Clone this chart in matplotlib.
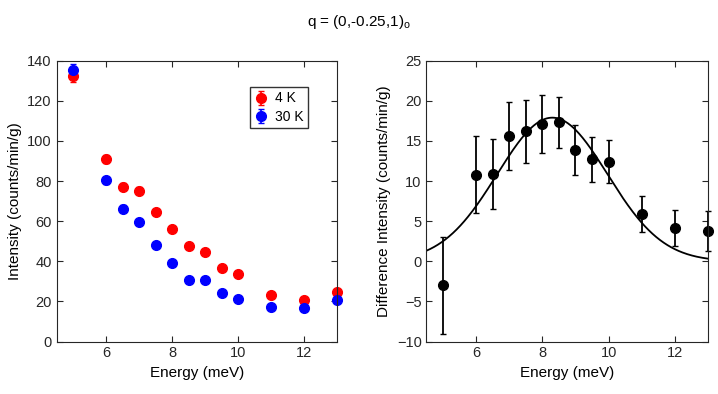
import numpy as np
import matplotlib
matplotlib.use('Agg')
import matplotlib.pyplot as plt

plt.rcParams['font.family'] = ['Liberation Sans', 'DejaVu Sans']
plt.rcParams['mathtext.fontset'] = 'custom'
plt.rcParams['mathtext.rm'] = 'Liberation Sans'

# left panel: intensity at two temperatures
energy = [5, 6, 6.5, 7, 7.5, 8, 8.5, 9, 9.5, 10, 11, 12, 13]
int_4K = [132.4, 91, 77.2, 75.2, 64.6, 56.3, 47.8, 44.5, 36.9, 33.6, 23.3, 20.9, 24.9]
err_4K = [3.0, 2.2, 1.8, 1.8, 1.6, 1.5, 1.4, 1.4, 1.3, 1.3, 1.2, 1.2, 1.2]
int_30K = [135.4, 80.4, 66.3, 59.5, 48.2, 39.2, 30.6, 30.6, 24.1, 21.3, 17.3, 16.6, 20.9]
err_30K = [3.0, 1.8, 1.6, 1.5, 1.4, 1.3, 1.2, 1.2, 1.1, 1.1, 1.0, 1.0, 1.0]

# right panel: difference
diff = [-3.0, 10.8, 10.9, 15.6, 16.2, 17.1, 17.3, 13.9, 12.7, 12.4, 5.9, 4.1, 3.8]
diff_err = [6.0, 4.8, 4.4, 4.2, 3.9, 3.6, 3.2, 3.1, 2.85, 2.7, 2.3, 2.25, 2.5]

# gaussian fit parameters
fit_amp = 17.9
fit_center = 8.3
fit_sigma = 1.665

fig = plt.figure(figsize=(7.18, 3.94), dpi=100)
ax1 = fig.add_axes([0.079, 0.133, 0.391, 0.713])
ax2 = fig.add_axes([0.594, 0.133, 0.392, 0.713])

ax1.errorbar(energy, int_4K, yerr=err_4K, fmt='o', color='red', ms=7,
             capsize=2, elinewidth=1.2, label='4 K', clip_on=False)
ax1.errorbar(energy, int_30K, yerr=err_30K, fmt='o', color='blue', ms=7,
             capsize=2, elinewidth=1.2, label='30 K', clip_on=False)
ax1.set_xlim(4.5, 13)
ax1.set_ylim(0, 140)
ax1.set_xticks([6, 8, 10, 12])
ax1.set_yticks(range(0, 141, 20))
ax1.set_xlabel('Energy (meV)', fontsize=11)
ax1.set_ylabel('Intensity (counts/min/g)', fontsize=11)
leg = ax1.legend(loc='upper right', bbox_to_anchor=(0.92, 0.93), fancybox=False,
                 edgecolor='black', fontsize=10, handlelength=1.0,
                 borderpad=0.3, labelspacing=0.3, handletextpad=0.5)
leg.get_frame().set_linewidth(1.0)

xfit = np.linspace(4.5, 13, 300)
yfit = fit_amp * np.exp(-(xfit - fit_center) ** 2 / (2 * fit_sigma ** 2))
ax2.plot(xfit, yfit, color='black', lw=1.3)
ax2.errorbar(energy, diff, yerr=diff_err, fmt='o', color='black', ms=7,
             capsize=2, elinewidth=1.3, clip_on=False)
ax2.set_xlim(4.5, 13)
ax2.set_ylim(-10, 25)
ax2.set_xticks([6, 8, 10, 12])
ax2.set_yticks(range(-10, 26, 5))
ax2.set_xlabel('Energy (meV)', fontsize=11)
ax2.set_ylabel('Difference Intensity (counts/min/g)', fontsize=11)

for ax in (ax1, ax2):
    ax.tick_params(direction='in', top=True, right=True, labelsize=10.5,
                   length=4, colors='#262626')
    for sp in ax.spines.values():
        sp.set_color('#262626')

fig.text(0.5, 0.945, r'q = (0,-0.25,1)$_\mathregular{o}$', ha='center',
         va='center', fontsize=11)

fig.savefig('out.png', dpi=100)
